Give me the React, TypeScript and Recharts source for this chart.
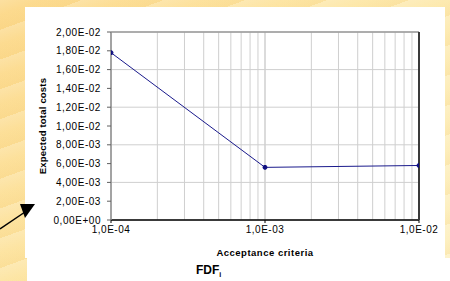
import React from "react";
import {
  LineChart,
  Line,
  XAxis,
  YAxis,
  CartesianGrid,
  ReferenceLine,
} from "recharts";

// acceptance criteria (FDF_i) and expected total costs
const criteria = [1e-4, 1e-3, 1e-2];
const totalCosts = [0.0178, 0.0056, 0.0058];

const xTicks = [1e-4, 1e-3, 1e-2];
const yTicks = [
  0, 0.002, 0.004, 0.006, 0.008, 0.01, 0.012, 0.014, 0.016, 0.018, 0.02,
];
const minorX = [
  2e-4, 3e-4, 4e-4, 5e-4, 6e-4, 7e-4, 8e-4, 9e-4, 1e-3,
  2e-3, 3e-3, 4e-3, 5e-3, 6e-3, 7e-3, 8e-3, 9e-3,
];

const data = criteria.map((c, i) => ({ x: c, y: totalCosts[i] }));

const font = "'Liberation Sans', Arial, sans-serif";

function sci(v: number, digits: number) {
  if (v === 0) return (0).toFixed(digits).replace(".", ",") + "E+00";
  const e = Math.floor(Math.log10(v) + 1e-9);
  const m = v / Math.pow(10, e);
  const sign = e < 0 ? "-" : "+";
  const ex = String(Math.abs(e)).padStart(2, "0");
  return m.toFixed(digits).replace(".", ",") + "E" + sign + ex;
}

export default function App() {
  return (
    <div
      style={{
        position: "absolute",
        left: 0,
        top: 0,
        width: 450,
        height: 281,
        overflow: "hidden",
        background:
          "repeating-linear-gradient(160deg, rgba(255,255,255,0.18) 0px, rgba(255,255,255,0) 14px, rgba(240,190,90,0.15) 28px), linear-gradient(135deg, #fcd98c 0%, #fde7a8 45%, #fdf1c4 100%)",
        fontFamily: font,
      }}
    >
      <div style={{ position: "absolute", left: 25, top: 7, width: 420, height: 251, background: "#fff" }} />
      <div style={{ position: "absolute", left: 27, top: 258, width: 423, height: 23, background: "#fff" }} />

      <svg width={450} height={281} style={{ position: "absolute", left: 0, top: 0 }}>
        <line x1={0} y1={229} x2={25} y2={212} stroke="#000" strokeWidth={1.5} />
        <polygon points="20,204 35,204 25,218" fill="#000" />
      </svg>

      <div style={{ position: "absolute", left: 0, top: 0 }}>
        <LineChart
          width={450}
          height={281}
          data={data}
          margin={{ top: 32, right: 25, bottom: 41, left: 25 }}
        >
          <CartesianGrid stroke="#cfcfcf" />
          {minorX.map((v) => (
            <ReferenceLine key={v} x={v} stroke="#cfcfcf" />
          ))}
          <ReferenceLine y={0.02} stroke="#9a9a9a" strokeWidth={1.5} />
          <XAxis
            dataKey="x"
            type="number"
            scale="log"
            domain={[1e-4, 1e-2]}
            ticks={xTicks}
            allowDataOverflow
            height={20}
            tickSize={3}
            tickMargin={3}
            stroke="#000"
            axisLine={{ stroke: "#000", strokeWidth: 1.5 }}
            tickLine={{ stroke: "#000" }}
            tick={{ fontSize: 10, fill: "#000", fontFamily: font, letterSpacing: 0.5 }}
            tickFormatter={(v: number) => sci(v, 1)}
            label={{
              value: "Acceptance criteria",
              position: "bottom",
              offset: 9,
              style: { fontSize: 9.5, fontWeight: 700, fill: "#000", fontFamily: font, letterSpacing: 0.5 },
            }}
          />
          <YAxis
            domain={[0, 0.02]}
            ticks={yTicks}
            width={86}
            tickSize={4}
            tickMargin={6}
            axisLine={{ stroke: "#8c8c8c", strokeWidth: 1.5 }}
            tickLine={{ stroke: "#606060" }}
            tick={{ fontSize: 10, fill: "#000", fontFamily: font, letterSpacing: 0.55 }}
            tickFormatter={(v: number) => sci(v, 2)}
            label={{
              value: "Expected total costs",
              angle: -90,
              position: "insideLeft",
              offset: 18,
              style: { fontSize: 9.5, fontWeight: 700, fill: "#000", fontFamily: font, textAnchor: "middle", letterSpacing: 0.2 },
            }}
          />
          <YAxis
            yAxisId="r"
            orientation="right"
            domain={[0, 0.02]}
            ticks={yTicks}
            width={6}
            tickSize={3}
            axisLine={{ stroke: "#3a3a3a", strokeWidth: 2 }}
            tickLine={{ stroke: "#3a3a3a" }}
            tickFormatter={() => ""}
          />
          <Line
            type="linear"
            dataKey="y"
            stroke="#1a1a8c"
            strokeWidth={1}
            dot={{ r: 2, fill: "#101080", stroke: "#101080", strokeWidth: 1 }}
            isAnimationActive={false}
          />
        </LineChart>
      </div>

      <div
        style={{
          position: "absolute",
          left: 196,
          top: 263,
          fontSize: 12,
          fontWeight: 700,
          fontFamily: font,
          color: "#000",
        }}
      >
        FDF<sub style={{ fontSize: 7 }}>i</sub>
      </div>
    </div>
  );
}
